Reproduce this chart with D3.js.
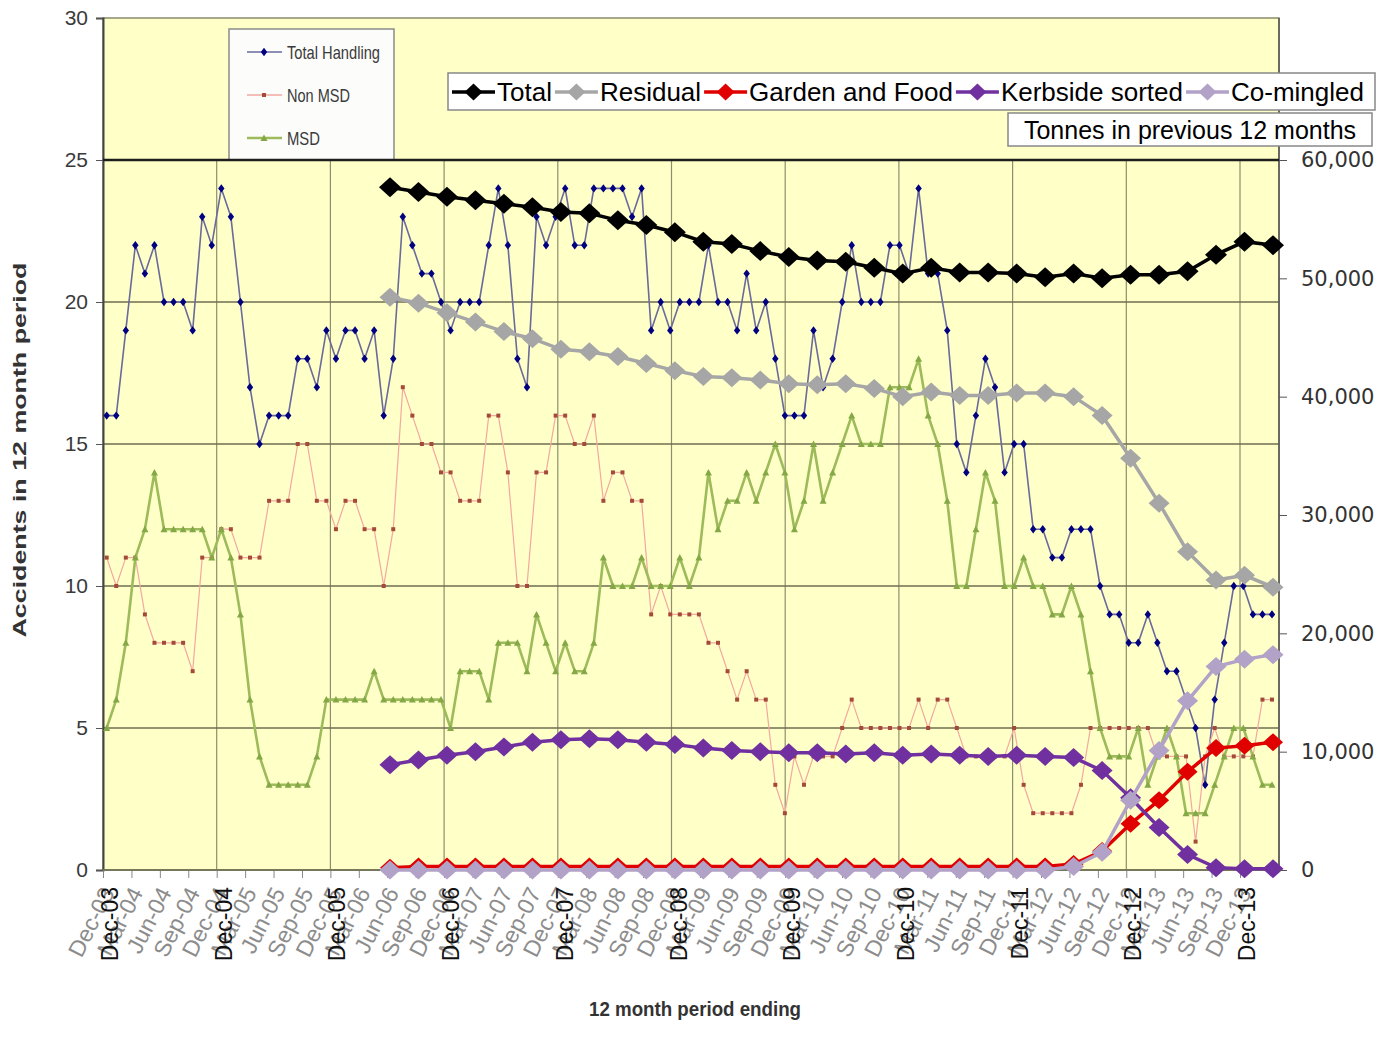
<!DOCTYPE html>
<html>
<head>
<meta charset="utf-8">
<script src="https://cdn.jsdelivr.net/npm/d3@7"></script>
<style>
  body { margin: 0; background: #fff; }
  svg text { font-family: 'Liberation Sans', Arial, sans-serif; }
  .narrow { font-family: 'Liberation Sans Narrow', 'Arial Narrow', 'Liberation Sans', sans-serif; }
</style>
</head>
<body>
<div class="chart"></div>
<script>
// accidents in 12 month period, one value a month from Dec-03
const totalHandling = [
  16, 16, 19, 22, 21, 22, 20, 20, 20, 19,
  23, 22, 24, 23, 20, 17, 15, 16, 16, 16,
  18, 18, 17, 19, 18, 19, 19, 18, 19, 16,
  18, 23, 22, 21, 21, 20, 19, 20, 20, 20,
  22, 24, 22, 18, 17, 23, 22, 23, 24, 22,
  22, 24, 24, 24, 24, 23, 24, 19, 20, 19,
  20, 20, 20, 22, 20, 20, 19, 21, 19, 20,
  18, 16, 16, 16, 19, 17, 18, 20, 22, 20,
  20, 20, 22, 22, 21, 24, 21, 21, 19, 15,
  14, 16, 18, 17, 14, 15, 15, 12, 12, 11,
  11, 12, 12, 12, 10, 9, 9, 8, 8, 9,
  8, 7, 7, 6, 5, 3, 6, 8, 10, 10,
  9, 9, 9
];
const nonMsd = [
  11, 10, 11, 11, 9, 8, 8, 8, 8, 7,
  11, 11, 12, 12, 11, 11, 11, 13, 13, 13,
  15, 15, 13, 13, 12, 13, 13, 12, 12, 10,
  12, 17, 16, 15, 15, 14, 14, 13, 13, 13,
  16, 16, 14, 10, 10, 14, 14, 16, 16, 15,
  15, 16, 13, 14, 14, 13, 13, 9, 10, 9,
  9, 9, 9, 8, 8, 7, 6, 7, 6, 6,
  3, 2, 4, 3, 4, 4, 4, 5, 6, 5,
  5, 5, 5, 5, 5, 6, 5, 6, 6, 5,
  4, 4, 4, 4, 4, 5, 3, 2, 2, 2,
  2, 2, 3, 5, 5, 5, 5, 5, 5, 5,
  4, 4, 4, 4, 1, 4, 5, 4, 4, 4,
  4, 6, 6
];
const msd = [
  5, 6, 8, 11, 12, 14, 12, 12, 12, 12,
  12, 11, 12, 11, 9, 6, 4, 3, 3, 3,
  3, 3, 4, 6, 6, 6, 6, 6, 7, 6,
  6, 6, 6, 6, 6, 6, 5, 7, 7, 7,
  6, 8, 8, 8, 7, 9, 8, 7, 8, 7,
  7, 8, 11, 10, 10, 10, 11, 10, 10, 10,
  11, 10, 11, 14, 12, 13, 13, 14, 13, 14,
  15, 14, 12, 13, 15, 13, 14, 15, 16, 15,
  15, 15, 17, 17, 17, 18, 16, 15, 13, 10,
  10, 12, 14, 13, 10, 10, 11, 10, 10, 9,
  9, 10, 9, 7, 5, 4, 4, 4, 5, 3,
  4, 5, 4, 2, 2, 2, 3, 4, 5, 5,
  4, 3, 3
];

const quarterLabels = [
  'Dec-03', 'Mar-04', 'Jun-04', 'Sep-04', 'Dec-04', 'Mar-05', 'Jun-05', 'Sep-05',
  'Dec-05', 'Mar-06', 'Jun-06', 'Sep-06', 'Dec-06', 'Mar-07', 'Jun-07', 'Sep-07',
  'Dec-07', 'Mar-08', 'Jun-08', 'Sep-08', 'Dec-08', 'Mar-09', 'Jun-09', 'Sep-09',
  'Dec-09', 'Mar-10', 'Jun-10', 'Sep-10', 'Dec-10', 'Mar-11', 'Jun-11', 'Sep-11',
  'Dec-11', 'Mar-12', 'Jun-12', 'Sep-12', 'Dec-12', 'Mar-13', 'Jun-13', 'Sep-13',
  'Dec-13'
];
const yearLabels = [
  'Dec-03', 'Dec-04', 'Dec-05', 'Dec-06', 'Dec-07', 'Dec-08',
  'Dec-09', 'Dec-10', 'Dec-11', 'Dec-12', 'Dec-13'
];

// tonnes in previous 12 months, quarterly
const tonnePeriods = [
  'Jun-06', 'Sep-06', 'Dec-06', 'Mar-07', 'Jun-07', 'Sep-07', 'Dec-07', 'Mar-08',
  'Jun-08', 'Sep-08', 'Dec-08', 'Mar-09', 'Jun-09', 'Sep-09', 'Dec-09', 'Mar-10',
  'Jun-10', 'Sep-10', 'Dec-10', 'Mar-11', 'Jun-11', 'Sep-11', 'Dec-11', 'Mar-12',
  'Jun-12', 'Sep-12', 'Dec-12', 'Mar-13', 'Jun-13', 'Sep-13', 'Dec-13', 'Mar-14'
];
const tonTotal = [
  57700, 57300, 56900, 56600, 56300, 56000, 55600, 55500, 54900, 54500,
  53900, 53100, 52900, 52300, 51800, 51500, 51400, 50900, 50400, 50900,
  50500, 50500, 50400, 50100, 50400, 50000, 50300, 50300, 50600, 52000,
  53100, 52800
];
const tonResidual = [
  48400, 47900, 47100, 46300, 45500, 44900, 44000, 43800, 43400, 42800,
  42200, 41700, 41600, 41400, 41100, 41000, 41100, 40700, 40000, 40400,
  40100, 40100, 40300, 40300, 40000, 38400, 34800, 31000, 26900, 24500,
  24900, 23900
];
const tonGarden = [
  200, 300, 300, 300, 300, 300, 300, 300, 300, 300,
  300, 300, 300, 300, 300, 300, 300, 300, 300, 300,
  300, 300, 300, 300, 500, 1600, 3900, 5900, 8300, 10300,
  10500, 10800
];
const tonKerbside = [
  8900, 9300, 9700, 10000, 10400, 10800, 11000, 11100, 11000, 10800,
  10600, 10300, 10100, 10000, 9900, 9900, 9800, 9900, 9700, 9800,
  9700, 9600, 9700, 9600, 9500, 8400, 6100, 3600, 1300, 200,
  100, 100
];
const tonComingled = [
  0, 0, 0, 0, 0, 0, 0, 0, 0, 0,
  0, 0, 0, 0, 0, 0, 0, 0, 0, 0,
  0, 0, 0, 0, 300, 1500, 5900, 10100, 14300, 17200,
  17800, 18200
];

const width = 1395;
const height = 1044;
const plot = { left: 103, right: 1279, top: 18, bottom: 870 };

const monthNames = ['Jan', 'Feb', 'Mar', 'Apr', 'May', 'Jun', 'Jul', 'Aug', 'Sep', 'Oct', 'Nov', 'Dec'];
// months since Dec-03
function monthIndex(label) {
  const parts = label.split('-');
  return (+parts[1] - 3) * 12 + monthNames.indexOf(parts[0]) - 11;
}

const svg = d3
  .select('.chart')
  .append('svg')
  .attr('width', width)
  .attr('height', height);

// the two charts were laid over each other, each with its own x placing
const xGrid = d3.scaleLinear().domain([0, 120]).range([plot.left, 1240]);
const xAcc = d3.scaleLinear().domain([0, totalHandling.length - 1]).range([106.7, 1272]);
const xTon = d3
  .scaleLinear()
  .domain([monthIndex(tonnePeriods[0]), monthIndex(tonnePeriods[tonnePeriods.length - 1])])
  .range([390, 1273]);
const yAcc = d3.scaleLinear().domain([0, 30]).range([plot.bottom, plot.top]);
const yTon = d3.scaleLinear().domain([0, 60000]).range([plot.bottom, 160]);

svg
  .append('rect')
  .attr('x', plot.left)
  .attr('y', plot.top)
  .attr('width', plot.right - plot.left)
  .attr('height', plot.bottom - plot.top)
  .attr('fill', '#ffffc8')
  .attr('stroke', '#8a8a6a')
  .attr('stroke-width', 1.5);

// vertical grid (yearly), only in the tonnes area
svg
  .append('g')
  .selectAll('line')
  .data(yearLabels.slice(1))
  .join('line')
  .attr('x1', d => xGrid(monthIndex(d)))
  .attr('x2', d => xGrid(monthIndex(d)))
  .attr('y1', yTon(60000))
  .attr('y2', plot.bottom)
  .attr('stroke', '#8e8e6e')
  .attr('stroke-width', 1.2);

svg
  .append('g')
  .selectAll('line')
  .data([5, 10, 15, 20])
  .join('line')
  .attr('x1', plot.left)
  .attr('x2', plot.right)
  .attr('y1', d => yAcc(d))
  .attr('y2', d => yAcc(d))
  .attr('stroke', '#6e6e50')
  .attr('stroke-width', 1.6);

// right border
svg
  .append('line')
  .attr('x1', plot.right)
  .attr('x2', plot.right)
  .attr('y1', plot.top)
  .attr('y2', plot.bottom)
  .attr('stroke', '#555')
  .attr('stroke-width', 1.5);

// left axis
const yAxis = d3.axisLeft(yAcc).tickValues(d3.range(0, 31, 5)).tickSize(7).tickPadding(8);
const gy = svg
  .append('g')
  .attr('class', 'narrow')
  .attr('transform', 'translate(' + plot.left + ',0)')
  .call(yAxis);
gy.select('.domain').attr('stroke', '#444').attr('stroke-width', 2);
gy.selectAll('.tick line').attr('stroke', '#555');
gy.selectAll('.tick text')
  .attr('class', 'narrow')
  .style('font-size', '21px')
  .attr('fill', '#3a3a3a');

// bottom axis, a tick each quarter
const xAxis = d3
  .axisBottom(xGrid)
  .tickValues(quarterLabels.map(monthIndex))
  .tickSize(8)
  .tickFormat('');
const gx = svg
  .append('g')
  .attr('transform', 'translate(0,' + plot.bottom + ')')
  .call(xAxis);
gx.select('.domain').remove();
gx.selectAll('.tick line').attr('stroke', '#888');
svg
  .append('line')
  .attr('x1', plot.left)
  .attr('x2', plot.right)
  .attr('y1', plot.bottom)
  .attr('y2', plot.bottom)
  .attr('stroke', '#77775a')
  .attr('stroke-width', 2);

// markers
function diamond(w, h) {
  return {
    draw(ctx) {
      ctx.moveTo(0, -h);
      ctx.lineTo(w, 0);
      ctx.lineTo(0, h);
      ctx.lineTo(-w, 0);
      ctx.closePath();
    }
  };
}
const triangle = {
  draw(ctx) {
    ctx.moveTo(0, -3.5);
    ctx.lineTo(3.5, 3);
    ctx.lineTo(-3.5, 3);
    ctx.closePath();
  }
};
const square = {
  draw(ctx) {
    ctx.rect(-2, -2, 4, 4);
  }
};

const accSeries = [
  { name: 'Total Handling', values: totalHandling, line: '#6a6a9c', lw: 1.6, marker: diamond(3.2, 4.2), fill: '#000080' },
  { name: 'Non MSD', values: nonMsd, line: '#f3a8a2', lw: 1.2, marker: square, fill: '#a44a38' },
  { name: 'MSD', values: msd, line: '#9dbb5b', lw: 2.6, marker: triangle, fill: '#84a846' }
];

const accLine = d3
  .line()
  .x((d, i) => xAcc(i))
  .y(d => yAcc(d));

accSeries.forEach(function(s) {
  const g = svg.append('g').attr('class', 'acc-series');
  g.append('path')
    .datum(s.values)
    .attr('d', accLine)
    .attr('fill', 'none')
    .attr('stroke', s.line)
    .attr('stroke-width', s.lw)
    .attr('stroke-linejoin', 'round');
  g.selectAll('path.pt')
    .data(s.values)
    .join('path')
    .attr('class', 'pt')
    .attr('d', d3.symbol().type(s.marker))
    .attr('transform', (d, i) => 'translate(' + xAcc(i) + ',' + yAcc(d) + ')')
    .attr('fill', s.fill);
});

// legend of the accidents chart
const leg1 = svg.append('g').attr('transform', 'translate(229,29)');
leg1
  .append('rect')
  .attr('width', 165)
  .attr('height', 131)
  .attr('fill', '#fcfcfa')
  .attr('stroke', '#8a8a8a')
  .attr('stroke-width', 1.5);
const leg1Rows = leg1
  .selectAll('g')
  .data(accSeries)
  .join('g')
  .attr('transform', (d, i) => 'translate(0,' + (23 + i * 43) + ')');
leg1Rows
  .append('line')
  .attr('x1', 18)
  .attr('x2', 53)
  .attr('stroke', d => d.line)
  .attr('stroke-width', d => Math.max(d.lw, 1.6));
leg1Rows
  .append('path')
  .attr('d', d => d3.symbol().type(d.marker)())
  .attr('transform', 'translate(35,0)')
  .attr('fill', d => d.fill);
leg1Rows
  .append('text')
  .attr('class', 'narrow')
  .attr('x', 58)
  .attr('dy', '0.36em')
  .style('font-size', '19px')
  .attr('fill', '#3a3a3a')
  .attr('textLength', d => ({ 'Total Handling': 93, 'Non MSD': 63, 'MSD': 33 })[d.name])
  .attr('lengthAdjust', 'spacingAndGlyphs')
  .text(d => d.name);

// tonnes chart on top
svg
  .append('line')
  .attr('x1', plot.left)
  .attr('x2', plot.right)
  .attr('y1', yTon(60000))
  .attr('y2', yTon(60000))
  .attr('stroke', '#1e1e1e')
  .attr('stroke-width', 2.5);

const tonSeries = [
  { name: 'Total', values: tonTotal, color: '#000000', w: 11, h: 10 },
  { name: 'Residual', values: tonResidual, color: '#a6a6a6', w: 10.5, h: 9.5 },
  { name: 'Garden and Food', values: tonGarden, color: '#e00000', w: 10, h: 9 },
  { name: 'Kerbside sorted', values: tonKerbside, color: '#7030a0', w: 10.5, h: 9.5 },
  { name: 'Co-mingled', values: tonComingled, color: '#b3a2c7', w: 10.5, h: 9.5 }
];

const tonLine = d3
  .line()
  .x((d, i) => xTon(monthIndex(tonnePeriods[i])))
  .y(d => yTon(d));

tonSeries.forEach(function(s) {
  const g = svg.append('g').attr('class', 'ton-series');
  g.append('path')
    .datum(s.values)
    .attr('d', tonLine)
    .attr('fill', 'none')
    .attr('stroke', s.color)
    .attr('stroke-width', 3.5);
  g.selectAll('path.pt')
    .data(s.values)
    .join('path')
    .attr('class', 'pt')
    .attr('d', d3.symbol().type(diamond(s.w, s.h)))
    .attr('transform', (d, i) => 'translate(' + xTon(monthIndex(tonnePeriods[i])) + ',' + yTon(d) + ')')
    .attr('fill', s.color);
});

// right axis
const yAxisR = d3
  .axisRight(yTon)
  .tickValues(d3.range(0, 60001, 10000))
  .tickSize(8)
  .tickPadding(14)
  .tickFormat(d3.format(','));
const gyr = svg
  .append('g')
  .attr('transform', 'translate(' + plot.right + ',0)')
  .call(yAxisR);
gyr.select('.domain').remove();
gyr.selectAll('.tick line').attr('stroke', '#555');
gyr.selectAll('.tick text')
  .style('font-family', "'DejaVu Sans', Verdana, sans-serif")
  .style('font-size', '21px')
  .attr('fill', '#333');

// legend of the tonnes chart
const leg2 = svg.append('g').attr('transform', 'translate(448,73)');
leg2
  .append('rect')
  .attr('width', 927)
  .attr('height', 37)
  .attr('fill', '#fff')
  .attr('stroke', '#888')
  .attr('stroke-width', 1.5);
let cursor = 4;
tonSeries.forEach(function(s) {
  const item = leg2.append('g').attr('transform', 'translate(' + cursor + ',19)');
  item
    .append('line')
    .attr('x2', 43)
    .attr('stroke', s.color)
    .attr('stroke-width', 3.5);
  item
    .append('path')
    .attr('d', d3.symbol().type(diamond(9, 8.5))())
    .attr('transform', 'translate(21.5,0)')
    .attr('fill', s.color);
  const t = item
    .append('text')
    .attr('x', 45)
    .attr('dy', '0.35em')
    .style('font-size', '26px')
    .attr('fill', '#000')
    .text(s.name);
  cursor += 45 + t.node().getComputedTextLength() + 3;
});

const unitBox = svg.append('g').attr('transform', 'translate(1008,113)');
unitBox
  .append('rect')
  .attr('width', 364)
  .attr('height', 33)
  .attr('fill', '#fff')
  .attr('stroke', '#888')
  .attr('stroke-width', 1.5);
unitBox
  .append('text')
  .attr('x', 182)
  .attr('y', 17)
  .attr('dy', '0.35em')
  .attr('text-anchor', 'middle')
  .style('font-size', '25px')
  .attr('fill', '#000')
  .text('Tonnes in previous 12 months');

// x labels: grey quarterly ones slanted, black yearly ones upright
svg
  .append('g')
  .selectAll('text')
  .data(quarterLabels)
  .join('text')
  .attr('transform', d => 'translate(' + (xGrid(monthIndex(d)) + 5) + ',889) rotate(-63)')
  .attr('text-anchor', 'end')
  .attr('dy', '0.35em')
  .style('font-size', '23px')
  .attr('fill', '#8c8c8c')
  .text(d => d);

svg
  .append('g')
  .selectAll('text')
  .data(yearLabels)
  .join('text')
  .attr('transform', d => 'translate(' + (xGrid(monthIndex(d)) + 7) + ',887) rotate(-90)')
  .attr('text-anchor', 'end')
  .attr('dy', '0.35em')
  .style('font-size', '23px')
  .attr('fill', '#111')
  .text(d => d);

// axis titles
svg
  .append('text')
  .attr('class', 'narrow')
  .attr('transform', 'translate(20,450) rotate(-90)')
  .attr('text-anchor', 'middle')
  .attr('dy', '0.35em')
  .style('font-size', '18px')
  .style('font-weight', 'bold')
  .attr('fill', '#333')
  .attr('textLength', 375)
  .attr('lengthAdjust', 'spacingAndGlyphs')
  .text('Accidents in 12 month period');

svg
  .append('text')
  .attr('class', 'narrow')
  .attr('x', 695)
  .attr('y', 1009)
  .attr('text-anchor', 'middle')
  .attr('dy', '0.35em')
  .style('font-size', '20px')
  .style('font-weight', 'bold')
  .attr('fill', '#333')
  .attr('textLength', 212)
  .attr('lengthAdjust', 'spacingAndGlyphs')
  .text('12 month period ending');
</script>
</body>
</html>
